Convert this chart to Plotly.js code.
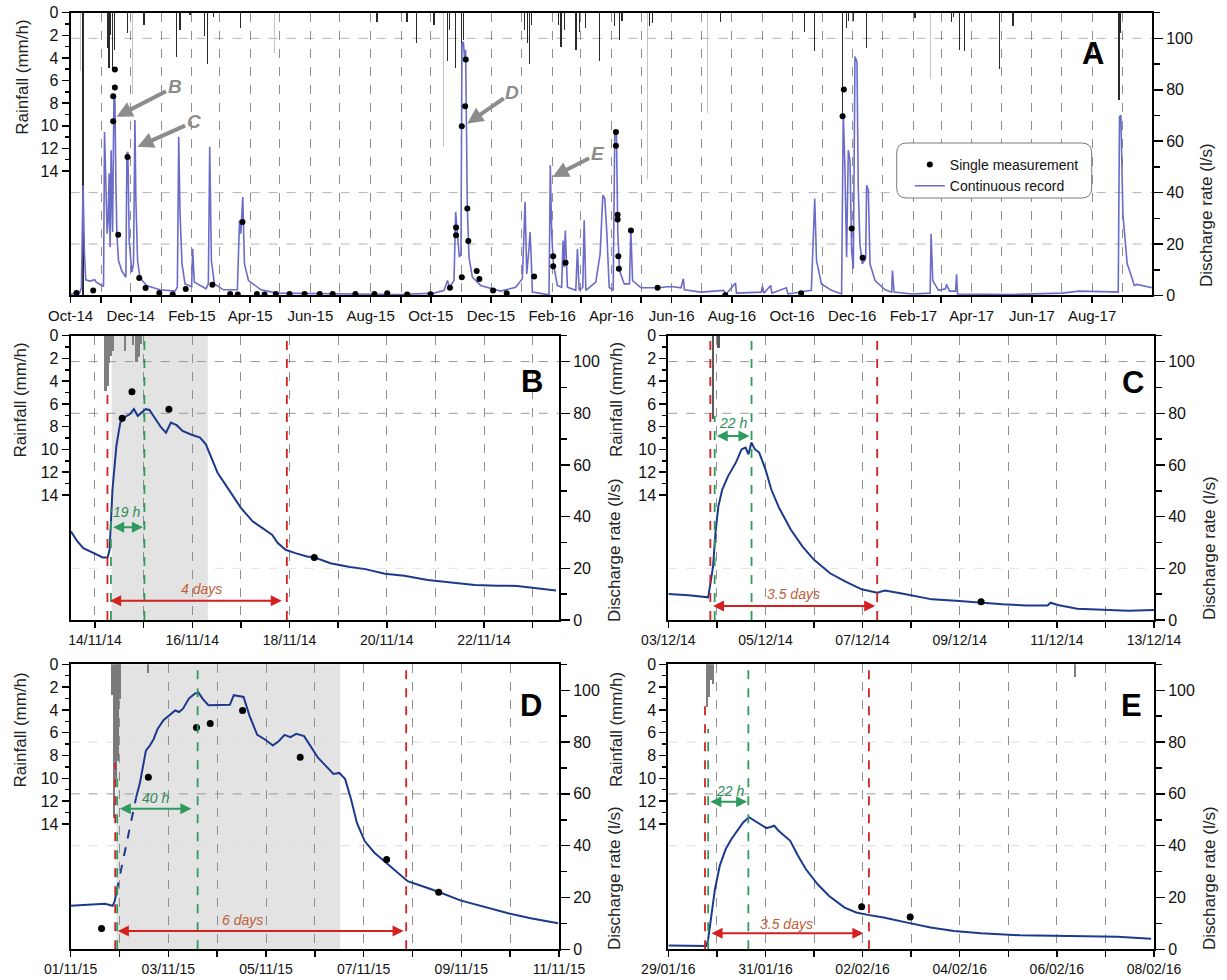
<!DOCTYPE html>
<html><head><meta charset="utf-8">
<script src="https://cdn.plot.ly/plotly-3.0.1.min.js"></script>
<style>html,body{margin:0;padding:0;background:#fff}</style>
</head><body><div id="chart" style="width:1227px;height:980px"></div>
<script>
// ---------------- Panel A (full record) ----------------
const A_dates = ["2014-10-01","2014-10-10","2014-10-12","2014-10-13 16:00","2014-10-15 02:00","2014-10-16 10:00","2014-10-20 12:00","2014-10-25 14:00","2014-10-27","2014-11-03 10:00","2014-11-04 10:00","2014-11-05 17:00","2014-11-07 02:00","2014-11-08 02:00","2014-11-09 02:00","2014-11-10 02:00","2014-11-11 02:00","2014-11-12 02:00","2014-11-12 14:00","2014-11-13 22:00","2014-11-14 22:00","2014-11-15 22:00","2014-11-16 22:00","2014-11-18 14:00","2014-11-22","2014-11-26 02:00","2014-11-27 02:00","2014-11-28 02:00","2014-11-29 10:00","2014-12-02 02:00","2014-12-03 19:00","2014-12-05 05:00","2014-12-06 05:00","2014-12-07 22:00","2014-12-10 07:00","2014-12-17","2014-12-30 14:00","2015-01-14 19:00","2015-01-17 05:00","2015-01-18 14:00","2015-01-19 22:00","2015-01-21 22:00","2015-01-25","2015-01-31 17:00","2015-02-01 17:00","2015-02-03 10:00","2015-02-15 05:00","2015-02-17 14:00","2015-02-19","2015-02-20 17:00","2015-02-23 17:00","2015-03-04 22:00","2015-03-19","2015-03-21 05:00","2015-03-22 12:00","2015-03-24 12:00","2015-03-26 05:00","2015-03-30 07:00","2015-04-12","2015-04-28","2015-06-15","2015-08-31","2015-10-04","2015-10-14 12:00","2015-10-17 22:00","2015-10-20","2015-10-24 12:00","2015-10-26 05:00","2015-10-27 22:00","2015-10-29 22:00","2015-10-31 14:00","2015-11-01 14:00","2015-11-03","2015-11-04 07:00","2015-11-05 07:00","2015-11-06","2015-11-07","2015-11-08 17:00","2015-11-12 02:00","2015-11-20 12:00","2015-12-10 19:00","2015-12-26","2016-01-01 19:00","2016-01-04 12:00","2016-01-06 05:00","2016-01-08 14:00","2016-01-09 14:00","2016-01-10 14:00","2016-01-11 22:00","2016-01-28 19:00","2016-01-30 02:00","2016-01-31 12:00","2016-02-02 05:00","2016-02-06 05:00","2016-02-10 14:00","2016-02-12","2016-02-13","2016-02-14 07:00","2016-02-16 10:00","2016-02-24 22:00","2016-02-26 14:00","2016-02-28 07:00","2016-03-03","2016-03-04 10:00","2016-03-06 02:00","2016-03-16 05:00","2016-03-20 14:00","2016-03-23 07:00","2016-03-25 07:00","2016-03-27 10:00","2016-03-29 17:00","2016-04-02 19:00","2016-04-04 10:00","2016-04-06 02:00","2016-04-07 12:00","2016-04-09 05:00","2016-04-14","2016-04-19 07:00","2016-04-20 17:00","2016-04-22 10:00","2016-04-30 22:00","2016-05-17 19:00","2016-05-31 07:00","2016-06-10 12:00","2016-06-12 22:00","2016-06-13 22:00","2016-06-30 19:00","2016-07-23 19:00","2016-07-26 05:00","2016-08-04 17:00","2016-08-05 17:00","2016-08-30 19:00","2016-09-01","2016-09-02 12:00","2016-09-09 07:00","2016-09-10 14:00","2016-09-25 05:00","2016-09-26 22:00","2016-10-20 14:00","2016-10-24","2016-10-25 19:00","2016-10-30 19:00","2016-11-10","2016-11-20 05:00","2016-11-21 22:00","2016-11-23 14:00","2016-11-25 07:00","2016-11-27","2016-11-28 17:00","2016-11-30 10:00","2016-12-02 02:00","2016-12-03 19:00","2016-12-05 19:00","2016-12-07 02:00","2016-12-08 19:00","2016-12-11 05:00","2016-12-14 14:00","2016-12-15 14:00","2016-12-17 07:00","2016-12-19","2016-12-24 02:00","2017-01-03 07:00","2017-01-10","2017-01-10 17:00","2017-01-12 10:00","2017-01-30 07:00","2017-02-17 22:00","2017-02-18 22:00","2017-02-20 14:00","2017-02-26 10:00","2017-03-05 12:00","2017-03-06 12:00","2017-03-09 14:00","2017-03-15 17:00","2017-03-16 17:00","2017-03-17 17:00","2017-05-12 22:00","2017-07-01 17:00","2017-07-18 14:00","2017-08-21 10:00","2017-08-27 12:00","2017-08-28 19:00","2017-08-30 05:00","2017-09-01 05:00","2017-09-05 14:00","2017-09-10 17:00","2017-09-12 17:00","2017-09-15 19:00","2017-09-24 05:00","2017-09-30 14:00"];
const A_flow = [0.6,0.9,3,42.9,16.2,6.1,5.6,6.1,5.2,3.5,63.6,39.6,24,29,47.4,18.8,56.5,34.4,24.7,76,76.6,44.8,24,13.6,9.5,7.1,55.2,55.8,21.4,9.1,12.3,68.2,37,13.6,6.9,3.9,2.2,1.7,3.2,61.7,31.8,12.3,4.5,3.5,18.2,5.2,2.6,4.5,57.8,13.6,4.5,2.2,2.2,29.2,24,38.3,12.3,5.8,2.2,0.9,0.6,0.4,0.9,2,5.8,3.2,5.8,32.5,24,14.9,16.2,98,98.7,91.6,95.5,65.6,34.4,14.9,7.1,3.9,1.7,3.2,6.5,36.4,8.4,18.8,24.7,16.2,1.3,0.3,50.6,24,12.3,3.9,3.2,21.4,11,25.3,3.2,2,18.2,2,3.2,29.2,2,5.2,16.2,39,37.7,24,3.2,2,63.6,63,24,9.7,4.5,4.5,25.3,5.8,3,3,3.5,3,6.5,2.2,1.3,2,0.6,4.8,0.9,1.3,3.5,0.9,3.9,0.9,3,0.6,2,37.7,13.6,4.5,2,0.6,70.8,50,14.9,56.5,52.6,17.5,10.4,92.9,90.9,42.2,20.1,12.3,14.3,42.9,40.9,12.3,5.8,2.2,1.3,9.7,1.3,0.6,0.9,24,5.8,2,2.6,4.3,1.7,1.7,8.2,0.6,0.4,0.9,1.7,1.4,1.3,69.5,70.1,31.8,12.3,6.5,3.9,4.3,3.5,3];

const A_dot_dates = ["2014-10-07","2014-10-23 22:00","2014-11-14 22:00","2014-11-14 22:00","2014-11-13 05:00","2014-11-13 05:00","2014-11-27 17:00","2014-11-18 07:00","2014-12-09 14:00","2014-12-16","2014-12-29 22:00","2015-01-12 12:00","2015-01-25 17:00","2015-02-21 17:00","2015-03-11 17:00","2015-03-19 12:00","2015-03-24 05:00","2015-04-07 19:00","2015-04-15 14:00","2015-04-27","2015-05-10 22:00","2015-05-26 02:00","2015-06-10 10:00","2015-06-23 14:00","2015-07-16 14:00","2015-08-04 22:00","2015-08-17 19:00","2015-09-07 02:00","2015-09-30 19:00","2015-10-20 10:00","2015-10-26 14:00","2015-10-26 14:00","2015-11-01 10:00","2015-11-01 10:00","2015-11-04 19:00","2015-11-05 10:00","2015-11-07","2015-11-08","2015-11-16 12:00","2015-11-19 05:00","2015-12-03 02:00","2015-12-16 22:00","2016-01-13 17:00","2016-02-02","2016-02-02","2016-02-14 12:00","2016-04-05 14:00","2016-04-05 14:00","2016-04-07 07:00","2016-04-07 07:00","2016-04-08","2016-04-08 14:00","2016-04-20 19:00","2016-05-17 19:00","2016-07-25 10:00","2016-10-10 05:00","2016-11-22 12:00","2016-11-21 05:00","2016-11-30 10:00","2016-12-11 12:00"];
const A_dot_flow = [1.0,1.9,87.9,80.9,77.5,67.8,53.9,23.6,6.8,2.9,1.0,0.4,2.5,4.2,0.6,0.4,28.6,0.6,0.4,0.6,0.6,0.6,0.6,0.6,0.6,0.6,0.9,0.4,0.5,3.0,26.4,23.4,7.1,65.8,73.6,91.8,33.8,21.2,9.5,6.4,1.9,0.9,7.4,15.3,11.4,12.7,63.6,58.2,31.4,29.5,15.3,10.4,25.3,3.0,0.1,0.9,80.1,69.7,26.0,14.7];

const A_rain_dates = ["2014-10-13 17:00","2014-11-07 02:00","2014-11-08 02:00","2014-11-09 02:00","2014-11-10 19:00","2014-11-12 05:00","2014-11-14 05:00","2014-11-27 17:00","2014-12-14 07:00","2015-01-16 14:00","2015-01-20","2015-01-30","2015-02-13 14:00","2015-02-16 17:00","2015-02-22 19:00","2015-03-21 22:00","2015-08-07 14:00","2015-09-07","2015-09-16 14:00","2015-10-04 05:00","2015-10-17 22:00","2015-10-20","2015-10-26 05:00","2015-11-01 10:00","2015-11-03","2016-01-03 14:00","2016-01-06 22:00","2016-01-09 07:00","2016-01-11","2016-02-07 02:00","2016-02-09 19:00","2016-02-13 05:00","2016-02-25","2016-02-28 10:00","2016-03-06 02:00","2016-03-19 14:00","2016-04-03 22:00","2016-04-09","2016-04-11 17:00","2016-05-09 12:00","2016-05-12 22:00","2016-07-20 14:00","2016-10-13 22:00","2016-10-24","2016-11-21 05:00","2016-11-25 07:00","2016-11-27","2016-12-02","2016-12-15 14:00","2017-02-02 14:00","2017-03-11 05:00","2017-03-13 22:00","2017-03-19 17:00","2017-03-24 19:00","2017-04-29 07:00","2017-05-12 22:00","2017-08-28 05:00","2017-08-29 22:00"];
const A_rain_mm = [30,3.1,4.2,4.9,2.0,5.0,3.3,1.8,1.1,3.9,1.5,0.2,2.1,4.5,0.4,1.4,0.8,0.8,2.7,1.1,4.3,1.5,4.9,9.9,2.4,1.5,2.7,4.5,1.1,1.1,3.0,1.5,3.3,1.7,1.4,4.3,1.2,2.4,0.7,1.2,0.9,0.8,1.7,3.4,9.0,1.4,0.7,0.7,3.1,0.5,0.8,0.4,3.3,3.4,5.0,1.2,7.7,1.8];
const A_rain2_dates = ["2014-10-11 10:00","2014-12-02 19:00","2015-04-25 10:00","2015-10-13 14:00","2016-05-07 19:00","2016-07-07 17:00","2017-02-17 22:00"];
const A_rain2_mm = [5.2,7.2,3.6,11.9,14.7,8.9,5.9];

// ---------------- Panel B ----------------
const B_dates = ["2014-11-13 12:06","2014-11-13 15:20","2014-11-13 18:15","2014-11-13 23:00","2014-11-14 03:50","2014-11-14 06:14","2014-11-14 07:12","2014-11-14 08:38","2014-11-14 10:34","2014-11-14 12:29","2014-11-14 14:24","2014-11-14 17:17","2014-11-14 19:12","2014-11-14 21:07","2014-11-14 23:02","2014-11-15 00:58","2014-11-15 02:53","2014-11-15 05:46","2014-11-15 08:38","2014-11-15 11:02","2014-11-15 13:26","2014-11-15 16:19","2014-11-15 19:12","2014-11-15 23:02","2014-11-16 03:50","2014-11-16 06:43","2014-11-16 09:36","2014-11-16 12:29","2014-11-16 16:19","2014-11-16 20:10","2014-11-17 00:00","2014-11-17 05:46","2014-11-17 11:31","2014-11-17 15:22","2014-11-17 18:14","2014-11-17 22:05","2014-11-18 02:53","2014-11-18 08:38","2014-11-18 12:29","2014-11-18 20:10","2014-11-19 05:46","2014-11-19 13:26","2014-11-19 23:02","2014-11-20 08:38","2014-11-20 20:10","2014-11-21 07:41","2014-11-21 19:26","2014-11-22 06:43","2014-11-22 16:19","2014-11-23 01:55","2014-11-23 11:31"];
const B_flow = [34.3,30.4,27.8,25.9,24.2,24.2,27.2,50.5,67.4,76.4,78.4,79.7,81.6,79.0,80.3,81.6,81.3,77.7,74.5,72.5,76.4,75.4,73.2,71.9,70.6,68.0,62.2,57.0,52.5,47.9,43.4,38.2,35.0,33.0,29.8,27.2,25.9,24.6,24.2,22.0,20.5,19.7,17.9,17.1,15.5,14.5,13.6,13.3,13.2,12.3,11.4];
const B_dot_dates = ["2014-11-14 13:26","2014-11-14 18:14","2014-11-15 12:29","2014-11-18 12:14"];
const B_dot_flow = [78.1,88.3,81.6,24.2];
const B_rain_dates = ["2014-11-14 05:11","2014-11-14 06:09","2014-11-14 06:55","2014-11-14 07:52","2014-11-14 08:50","2014-11-14 14:47","2014-11-14 18:49","2014-11-14 20:33","2014-11-14 21:42","2014-11-14 22:40"];
const B_rain_mm = [4.9,4.4,2.4,1.8,1.3,1.3,0.8,2.3,1.9,0.7];

// ---------------- Panel C ----------------
const C_dates = ["2014-12-03 00:00","2014-12-03 10:05","2014-12-03 19:41","2014-12-03 20:38","2014-12-03 22:05","2014-12-03 23:17","2014-12-04 00:43","2014-12-04 02:38","2014-12-04 05:31","2014-12-04 09:22","2014-12-04 12:14","2014-12-04 14:10","2014-12-04 15:36","2014-12-04 17:02","2014-12-04 18:43","2014-12-04 20:53","2014-12-05 00:00","2014-12-05 02:53","2014-12-05 06:43","2014-12-05 12:29","2014-12-05 18:14","2014-12-06 00:00","2014-12-06 07:55","2014-12-06 15:36","2014-12-06 23:31","2014-12-07 07:12","2014-12-07 11:02","2014-12-07 18:43","2014-12-08 02:38","2014-12-08 10:19","2014-12-08 22:05","2014-12-09 09:36","2014-12-09 21:07","2014-12-10 08:53","2014-12-10 19:26","2014-12-10 20:53","2014-12-11 00:29","2014-12-11 10:05","2014-12-11 23:46","2014-12-12 11:17","2014-12-13 00:00"];
const C_flow = [10.1,9.6,8.8,13,20.7,33.7,44,50.5,55.7,60.9,66.1,66.7,64.1,68.7,66.1,64.8,58.3,50.5,43.4,35,28.5,23.3,18.1,14.9,11.9,10.6,11.4,10.4,9.1,8.0,7.5,6.7,6.1,5.6,5.6,6.7,5.8,4.4,3.9,3.6,3.9];
const C_dot_dates = ["2014-12-09 10:33"];
const C_dot_flow = [7.1];
const C_rain_dates = ["2014-12-03 22:05","2014-12-04 00:43"];
const C_rain_mm = [7.3,1.1];

// ---------------- Panel D ----------------
const D_dates = ["2015-11-01 00:00","2015-11-01 09:07","2015-11-01 16:48","2015-11-01 20:38","2015-11-01 21:36","2015-11-01 22:34"];
const D_flow = [16.8,17.2,17.6,16.8,18.5,22.4];
const D_gap_dates = ["2015-11-01 22:34","2015-11-02 08:10"];
const D_gap_flow = [22.4,58.6];
const D2_dates = ["2015-11-02 08:10","2015-11-02 10:05","2015-11-02 12:58","2015-11-02 14:53","2015-11-02 16:48","2015-11-02 18:43","2015-11-02 21:36","2015-11-03 00:29","2015-11-03 03:22","2015-11-03 05:17","2015-11-03 07:12","2015-11-03 10:05","2015-11-03 12:58","2015-11-03 14:53","2015-11-03 16:48","2015-11-03 19:41","2015-11-04 00:29","2015-11-04 06:14","2015-11-04 08:10","2015-11-04 10:05","2015-11-04 12:58","2015-11-04 15:50","2015-11-04 19:41","2015-11-04 23:31","2015-11-05 03:22","2015-11-05 06:14","2015-11-05 09:07","2015-11-05 12:00","2015-11-05 14:53","2015-11-05 18:43","2015-11-05 21:36","2015-11-06 01:26","2015-11-06 05:17","2015-11-06 09:07","2015-11-06 12:00","2015-11-06 14:53","2015-11-06 17:46","2015-11-06 20:38","2015-11-07 00:29","2015-11-07 05:17","2015-11-07 11:02","2015-11-07 16:48","2015-11-07 21:36","2015-11-08 02:24","2015-11-08 12:00","2015-11-08 23:31","2015-11-09 11:02","2015-11-09 22:34","2015-11-10 10:05","2015-11-10 23:31"];
const D2_flow = [58.6,64.4,76.7,78.6,81.2,85.1,88.4,90.3,92.2,91.6,92.9,96.8,98.7,99.1,96.8,94.2,94.4,94.4,98.1,97.8,97.4,90.3,82.8,81,78.7,80.3,82.8,81.9,83.2,82.3,78.7,74.1,70.9,67.7,68.1,65.7,58,48.9,41.8,37.3,33.4,29.5,26.3,25,22.4,18.9,16.3,14,12,10.1];
const D_dot_dates = ["2015-11-01 15:10","2015-11-02 14:10","2015-11-03 13:50","2015-11-03 20:35","2015-11-04 12:29","2015-11-05 16:48","2015-11-07 11:17","2015-11-08 12:53"];
const D_dot_flow = [8.0,66.4,85.6,87.2,92.2,74.1,34.7,22.0];
const D_rain_dates = ["2015-11-01 20:10","2015-11-01 21:10","2015-11-01 22:10","2015-11-01 23:10","2015-11-02 00:10","2015-11-02 13:50"];
const D_rain_mm = [2.7,13.5,10.0,8.5,3.0,0.8];

// ---------------- Panel E ----------------
const E_dates = ["2016-01-29 00:00","2016-01-29 10:05","2016-01-29 18:43","2016-01-29 19:41","2016-01-29 21:07","2016-01-29 23:02","2016-01-30 01:26","2016-01-30 04:19","2016-01-30 07:12","2016-01-30 10:05","2016-01-30 12:58","2016-01-30 15:50","2016-01-30 18:43","2016-01-30 21:36","2016-01-31 00:29","2016-01-31 02:24","2016-01-31 04:19","2016-01-31 06:29","2016-01-31 09:22","2016-01-31 12:14","2016-01-31 16:05","2016-01-31 19:55","2016-02-01 01:41","2016-02-01 07:26","2016-02-01 15:07","2016-02-01 20:53","2016-02-02 02:38","2016-02-02 10:19","2016-02-02 22:05","2016-02-03 09:36","2016-02-03 21:07","2016-02-04 10:34","2016-02-05 05:46","2016-02-06 01:12","2016-02-06 20:24","2016-02-07 06:00","2016-02-07 22:34"];
const E_flow = [1.5,1.3,1.3,3.9,12.9,23.2,32.3,38.7,42.6,45.8,49,51,49.7,48.4,46.8,47.2,47.7,45.8,43.9,41.9,36.1,31,25.2,20.6,16.1,14.2,13.3,12.3,10.3,8.4,7.1,6.2,5.4,5.2,5.2,4.9,4.1];
const E_dot_dates = ["2016-02-01 23:31","2016-02-02 23:31"];
const E_dot_flow = [16.4,12.5];
const E_rain_dates = ["2016-01-29 19:05","2016-01-29 19:51","2016-01-29 20:49","2016-01-29 21:59","2016-02-06 08:53"];
const E_rain_mm = [3.7,2.9,1.4,1.7,1.1];

// ---------------- event markers (dates; [start, end]) and top of each dashed line (l/s) ----------------
const B_red = ["2014-11-14 06:09","2014-11-17 22:41"], B_green = ["2014-11-14 07:52","2014-11-15 00:23"], B_shade = ["2014-11-14 08:15","2014-11-16 07:41"];
const C_red = ["2014-12-03 20:45","2014-12-07 07:12"], C_green = ["2014-12-03 22:53","2014-12-04 17:07"];
const D_red = ["2015-11-01 21:53","2015-11-07 20:53"], D_green = ["2015-11-01 22:51","2015-11-03 14:24"], D_shade = ["2015-11-01 22:28","2015-11-06 12:29"];
const E_red = ["2016-01-29 18:07","2016-02-02 03:07"], E_green = ["2016-01-29 19:40","2016-01-30 15:32"];
const B_redTop = [89,110], B_greenTop = [43,110];
const C_redTop = [110,110], C_greenTop = [79,110];
const D_redTop = [72,110], D_greenTop = [68,110];
const E_redTop = [95,110], E_greenTop = [85,110];
// arrows: [start, end, level(l/s), label position, label level, text]
const B_arrG = ["2014-11-14 08:15","2014-11-14 23:38",35.9,"2014-11-14 15:22",41.7,"19 h"];
const B_arrR = ["2014-11-14 06:43","2014-11-17 20:10",7.5,"2014-11-16 04:28",11.9,"4 days"];
const C_arrG = ["2014-12-03 23:11","2014-12-04 16:05",71.2,"2014-12-04 07:48",76.2,"22 h"];
const C_arrR = ["2014-12-03 21:20","2014-12-07 06:14",5.4,"2014-12-05 14:04",10.1,"3.5 days"];
const D_arrG = ["2015-11-01 23:25","2015-11-03 11:20",54.3,"2015-11-02 17:40",58.6,"40 h"];
const D_arrR = ["2015-11-01 22:28","2015-11-07 19:35",7.1,"2015-11-04 12:17",11.4,"6 days"];
const E_arrG = ["2016-01-29 20:02","2016-01-30 14:56",57,"2016-01-30 06:16",61.3,"22 h"];
const E_arrR = ["2016-01-29 20:37","2016-02-02 00:23",6.2,"2016-01-31 10:36",9.7,"3.5 days"];
// event pointers in A: [date, l/s, label]
const A_pointers = [["2014-11-16 14:00",69.5,"B"],["2014-12-07 22:00",57.8,"C"],["2015-11-07 00:00",66.9,"D"],["2016-02-01 10:00",46.1,"E"]];

const rainTicks = [0,2,4,6,8,10,12,14];
const rainMinor = [1,3,5,7,9,11,13];

// ---------------- styling / layout ----------------
const FONT = "Liberation Sans, Arial, sans-serif";
const GRIDC = "#8f8f8f";
const RED = "#d42020", GREEN = "#2e9a5e", REDTXT = "#c0603a", GREENTXT = "#2e8b57";
const NAVY = "#1c3a8c", SLATE = "#6b6bc9";

const panels = [
  {x:'x', r:'y', q:'y2', xd:[0.0575,0.9389], yd:[0.6985,0.9871], range:['2014-10-01','2017-09-30 18:00'], fmt:'%b-%y', tick0:'2014-10-01', dtick:'M2', minor:'M1', xfs:15},
  {x:'x2', r:'y3', q:'y4', xd:[0.0576,0.4556], yd:[0.3673,0.6574], range:['2014-11-13 12:00','2014-11-23 13:00'], fmt:'%d/%m/%y', tick0:'2014-11-14', dtick:172800000, minor:86400000, xfs:14},
  {x:'x3', r:'y5', q:'y6', xd:[0.5447,0.9405], yd:[0.3673,0.6574], range:['2014-12-03','2014-12-13'], fmt:'%d/%m/%y', tick0:'2014-12-03', dtick:172800000, minor:86400000, xfs:14},
  {x:'x4', r:'y7', q:'y8', xd:[0.0576,0.4556], yd:[0.0313,0.3221], range:['2015-11-01','2015-11-11'], fmt:'%d/%m/%y', tick0:'2015-11-01', dtick:172800000, minor:86400000, xfs:14},
  {x:'x5', r:'y9', q:'y10', xd:[0.5447,0.9405], yd:[0.0313,0.3221], range:['2016-01-29','2016-02-08'], fmt:'%d/%m/%y', tick0:'2016-01-29', dtick:172800000, minor:86400000, xfs:14}
];
function axName(id){ return id.replace(/^x/,'xaxis').replace(/^y/,'yaxis'); }

const layout = {
  width:1227, height:980, autosize:false,
  margin:{l:0,r:0,t:0,b:0},
  paper_bgcolor:'#fff', plot_bgcolor:'rgba(0,0,0,0)',
  font:{family:FONT, color:'#111', size:16},
  barmode:'overlay', bargap:0, showlegend:true, hovermode:false,
  legend:{x:0.7415, y:1-149/980, xanchor:'left', yanchor:'top', bgcolor:'rgba(0,0,0,0)', borderwidth:0,
          font:{size:14, family:FONT}, tracegroupgap:2, itemwidth:30},
  shapes:[], annotations:[]
};

panels.forEach(p => {
  layout[axName(p.x)] = {
    domain:p.xd, anchor:p.r, type:'date', range:p.range,
    showline:true, mirror:true, linecolor:'#000', linewidth:2,
    ticks:'outside', ticklen:6, tickwidth:1.5, tickcolor:'#000',
    tick0:p.tick0, dtick:p.dtick, tickformat:p.fmt, tickfont:{size:p.xfs},
    showgrid:true, gridcolor:GRIDC, griddash:'dash', gridwidth:1, zeroline:false,
    minor:{dtick:p.minor, tick0:p.tick0, ticks:'outside', ticklen:6, tickwidth:1.5, tickcolor:'#000',
           showgrid:true, gridcolor:GRIDC, griddash:'dash', gridwidth:1}
  };
  layout[axName(p.r)] = {
    domain:p.yd, anchor:p.x, range:[25,0], tickmode:'array', tickvals:rainTicks,
    ticks:'outside', ticklen:7, tickwidth:1.5, tickcolor:'#000',
    showline:true, linecolor:'#000', linewidth:2, showgrid:false, zeroline:false,
    tickfont:{size:16},
    minor:{tickmode:'array', tickvals:rainMinor, ticks:'outside', ticklen:4, tickwidth:1.5, tickcolor:'#000', showgrid:false}
  };
  layout[axName(p.q)] = {
    overlaying:p.r, anchor:p.x, side:'right', range:[0,110], tick0:0, dtick:20,
    ticks:'outside', ticklen:9, tickwidth:1.5, tickcolor:'#000',
    showline:true, linecolor:'#000', linewidth:2, showgrid:false, zeroline:false,
    tickfont:{size:16},
    minor:{dtick:10, ticks:'outside', ticklen:6, tickwidth:1.5, tickcolor:'#000', showgrid:false}
  };
});

// shaded event windows (drawn beneath grid)
[[panels[1],B_shade],[panels[3],D_shade]].forEach(([p,s]) => {
  layout.shapes.push({type:'rect', layer:'below', xref:p.x, yref:p.r+' domain', x0:s[0], x1:s[1], y0:0, y1:1,
    fillcolor:'#e3e3e3', line:{width:0}});
});
// horizontal dashed guide lines (discharge levels, as fraction of the 0-110 axis)
const hgrid = [
  [0,[[100,'#b5b5b5'],[40,'#b5b5b5'],[20,'#b5b5b5']]],
  [1,[[100,'#9a9a9a'],[80,'#9a9a9a'],[20,'#e2e2e2']]],
  [2,[[100,'#9a9a9a'],[80,'#9a9a9a'],[20,'#e2e2e2']]],
  [3,[[80,'#dcdcdc'],[60,'#9a9a9a'],[40,'#dcdcdc']]],
  [4,[[80,'#dcdcdc'],[60,'#9a9a9a'],[40,'#dcdcdc']]]
];
hgrid.forEach(([i,list]) => list.forEach(([v,c]) => {
  const p = panels[i];
  layout.shapes.push({type:'line', layer:'below', xref:p.x+' domain', yref:p.r+' domain', x0:0, x1:1, y0:v/110, y1:v/110,
    line:{color:c, width:1, dash:'dash'}});
}));
// event vertical dashed lines
[[1,B_red,B_green,B_redTop,B_greenTop],[2,C_red,C_green,C_redTop,C_greenTop],
 [3,D_red,D_green,D_redTop,D_greenTop],[4,E_red,E_green,E_redTop,E_greenTop]].forEach(([i,r,g,rt,gt]) => {
  const p = panels[i];
  r.forEach((d,k) => layout.shapes.push({type:'line', layer:'above', xref:p.x, yref:p.r+' domain', x0:d, x1:d, y0:0, y1:rt[k]/110,
     line:{color:RED, width:1.8, dash:'dash'}}));
  g.forEach((d,k) => layout.shapes.push({type:'line', layer:'above', xref:p.x, yref:p.r+' domain', x0:d, x1:d, y0:0, y1:gt[k]/110,
     line:{color:GREEN, width:1.8, dash:'dash'}}));
});
// legend box with rounded corners (panel A)
(function(){
  const x0=896.7/1227, x1=1091.7/1227, yT=1-143/980, yB=1-198/980, rx=10/1227, ry=10/980;
  layout.shapes.push({type:'path', xref:'paper', yref:'paper', layer:'above',
    path:`M ${x0+rx} ${yT} L ${x1-rx} ${yT} Q ${x1} ${yT} ${x1} ${yT-ry} L ${x1} ${yB+ry} Q ${x1} ${yB} ${x1-rx} ${yB} L ${x0+rx} ${yB} Q ${x0} ${yB} ${x0} ${yB+ry} L ${x0} ${yT-ry} Q ${x0} ${yT} ${x0+rx} ${yT} Z`,
    fillcolor:'#fff', line:{color:'#7a7a7a', width:1}});
})();

// double arrows + labels
function addArrow(p, a, color, tcolor){
  layout.annotations.push({xref:p.x, yref:p.q, axref:p.x, ayref:p.q, x:a[1], y:a[2], ax:a[0], ay:a[2],
    text:'', showarrow:true, arrowhead:2, startarrowhead:2, arrowside:'end+start', arrowsize:1.1, startarrowsize:1.1,
    arrowwidth:2, arrowcolor:color, standoff:0, startstandoff:0});
  layout.annotations.push({xref:p.x, yref:p.q, x:a[3], y:a[4], text:'<i>'+a[5]+'</i>', showarrow:false,
    font:{size:14, color:tcolor, family:FONT}});
}
addArrow(panels[1],B_arrG,GREEN,GREENTXT); addArrow(panels[1],B_arrR,RED,REDTXT);
addArrow(panels[2],C_arrG,GREEN,GREENTXT); addArrow(panels[2],C_arrR,RED,REDTXT);
addArrow(panels[3],D_arrG,GREEN,GREENTXT); addArrow(panels[3],D_arrR,RED,REDTXT);
addArrow(panels[4],E_arrG,GREEN,GREENTXT); addArrow(panels[4],E_arrR,RED,REDTXT);

// gray pointers in A
const ptrOff = {B:[58,-30], C:[56,-25], D:[45,-31], E:[45,-23]};
A_pointers.forEach(([d,q,lab]) => {
  layout.annotations.push({xref:'x', yref:'y2', x:d, y:q, ax:ptrOff[lab][0], ay:ptrOff[lab][1],
    text:'<b><i>'+lab+'</i></b>', showarrow:true, arrowhead:2, arrowsize:0.8, arrowwidth:4, arrowcolor:'#8c8c8c',
    font:{size:19, color:'#8c8c8c', family:FONT}});
});

// panel letters
[['A',1093,54],['B',532,381],['C',1133,382],['D',531,705],['E',1131,705]].forEach(([t,x,y]) => {
  layout.annotations.push({xref:'paper', yref:'paper', x:x/1227, y:1-y/980, text:'<b>'+t+'</b>', showarrow:false,
    xanchor:'center', yanchor:'middle', font:{size:31, family:FONT, color:'#000'}});
});
// axis titles
[['Rainfall (mm/h)',22.7,77],['Discharge rate (l/s)',1207,215],
 ['Rainfall (mm/h)',19.5,400],['Discharge rate (l/s)',614,550],['Rainfall (mm/h)',616,400],['Discharge rate (l/s)',1209,548],
 ['Rainfall (mm/h)',19.5,730],['Discharge rate (l/s)',614,878],['Rainfall (mm/h)',616,730],['Discharge rate (l/s)',1209,878]
].forEach(([t,x,y]) => {
  layout.annotations.push({xref:'paper', yref:'paper', x:x/1227, y:1-y/980, text:t, textangle:-90, showarrow:false,
    xanchor:'center', yanchor:'middle', font:{size:17, family:FONT, color:'#222'}});
});

// ---------------- traces ----------------
const traces = [];
function rain(p, d, v, color, widthMs){
  traces.push({type:'bar', x:d, y:v, base:0, xaxis:p.x, yaxis:p.r, width:widthMs,
    marker:{color:color, line:{width:0}}, showlegend:false});
}
rain(panels[0], A_rain2_dates, A_rain2_mm, '#c4c4c4', 86400000);
rain(panels[0], A_rain_dates, A_rain_mm, '#2a2a2a', 86400000*1.3);
rain(panels[1], B_rain_dates, B_rain_mm, '#7f7f7f', 3600000*1.2);
rain(panels[2], C_rain_dates, C_rain_mm, '#5a5a5a', 3600000*1.2);
rain(panels[3], D_rain_dates, D_rain_mm, '#7a7a7a', 3600000*1.1);
rain(panels[4], E_rain_dates, E_rain_mm, '#7f7f7f', 3600000*1.2);

traces.push({type:'scatter', mode:'lines', x:A_dates, y:A_flow, xaxis:'x', yaxis:'y2',
  line:{color:SLATE, width:1.6}, name:'Continuous record', legendrank:2, showlegend:true});
traces.push({type:'scatter', mode:'markers', x:A_dot_dates, y:A_dot_flow, xaxis:'x', yaxis:'y2',
  marker:{color:'#000', size:6}, name:'Single measurement', legendrank:1, showlegend:true});

function flow(p, d, v, dash){
  traces.push({type:'scatter', mode:'lines', x:d, y:v, xaxis:p.x, yaxis:p.q,
    line:{color:NAVY, width:2, dash:dash||'solid'}, showlegend:false});
}
function dots(p, d, v){
  traces.push({type:'scatter', mode:'markers', x:d, y:v, xaxis:p.x, yaxis:p.q,
    marker:{color:'#000', size:7}, showlegend:false});
}
flow(panels[1], B_dates, B_flow); dots(panels[1], B_dot_dates, B_dot_flow);
flow(panels[2], C_dates, C_flow); dots(panels[2], C_dot_dates, C_dot_flow);
flow(panels[3], D_dates, D_flow); flow(panels[3], D_gap_dates, D_gap_flow, 'dash'); flow(panels[3], D2_dates, D2_flow);
dots(panels[3], D_dot_dates, D_dot_flow);
flow(panels[4], E_dates, E_flow); dots(panels[4], E_dot_dates, E_dot_flow);

Plotly.newPlot('chart', traces, layout, {staticPlot:true, displayModeBar:false});
</script></body></html>
